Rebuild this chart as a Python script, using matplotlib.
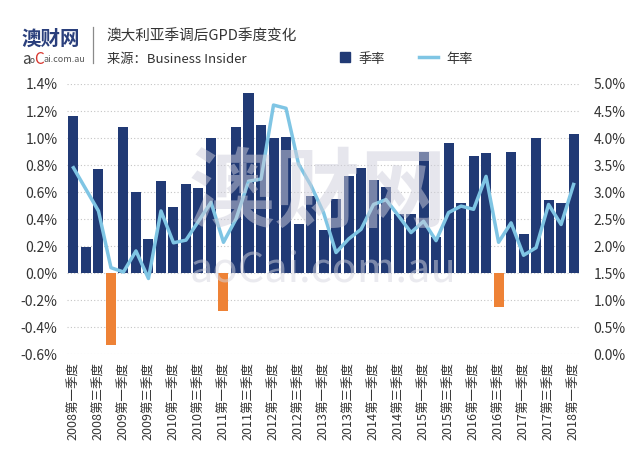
import matplotlib
matplotlib.use('Agg')
import matplotlib.pyplot as plt
from matplotlib.lines import Line2D
from matplotlib.patches import Rectangle

plt.rcParams['font.family'] = ['Noto Sans CJK SC', 'DejaVu Sans']

# quarterly growth (%), 2008Q1 .. 2018Q1
quarterly = [1.16, 0.19, 0.77, -0.53, 1.08, 0.60, 0.25, 0.68, 0.49, 0.66,
             0.63, 1.00, -0.28, 1.08, 1.33, 1.10, 1.00, 1.01, 0.36, 0.57,
             0.32, 0.55, 0.72, 0.78, 0.69, 0.64, 0.44, 0.44, 0.90, 0.27,
             0.96, 0.52, 0.87, 0.89, -0.25, 0.90, 0.29, 1.00, 0.54, 0.52,
             1.03]
# annual growth (%)
annual = [3.45, 3.05, 2.65, 1.60, 1.52, 1.91, 1.40, 2.65, 2.06, 2.11,
          2.46, 2.81, 2.07, 2.50, 3.20, 3.24, 4.61, 4.55, 3.52, 3.12,
          2.62, 1.88, 2.13, 2.31, 2.77, 2.86, 2.56, 2.25, 2.46, 2.10,
          2.62, 2.74, 2.68, 3.29, 2.07, 2.43, 1.83, 1.97, 2.77, 2.40,
          3.14]
tick_labels = ['2008第一季度', '2008第三季度', '2009第一季度', '2009第三季度',
               '2010第一季度', '2010第三季度', '2011第一季度', '2011第三季度',
               '2012第一季度', '2012第三季度', '2013第一季度', '2013第三季度',
               '2014第一季度', '2014第三季度', '2015第一季度', '2015第三季度',
               '2016第一季度', '2016第三季度', '2017第一季度', '2017第三季度',
               '2018第一季度']
left_ticks = [-0.6, -0.4, -0.2, 0.0, 0.2, 0.4, 0.6, 0.8, 1.0, 1.2, 1.4]
right_ticks = [0.0, 0.5, 1.0, 1.5, 2.0, 2.5, 3.0, 3.5, 4.0, 4.5, 5.0]

navy = '#213a75'
orange = '#ee8236'
lightblue = '#7fc5e4'
txt = '#333333'

fig = plt.figure(figsize=(6.4, 4.54), dpi=100)
ax = fig.add_axes([0.105, 0.220, 0.801, 0.595])
x = list(range(len(quarterly)))
colors = [navy if v >= 0 else orange for v in quarterly]
ax.bar(x, quarterly, width=0.8, color=colors, zorder=2)
ax.set_xlim(-0.5, len(quarterly) - 0.5)
ax.set_ylim(-0.6, 1.4)
ax.set_yticks(left_ticks)
ax.set_yticklabels(['%.1f%%' % v for v in left_ticks], fontsize=10, color=txt)
ax.set_xticks(x[::2])
ax.set_xticklabels(tick_labels, rotation=90, fontsize=9, color=txt)
ax.tick_params(length=0, pad=6)
ax.tick_params(axis='y', pad=7)
ax.grid(axis='y', color='#c4c4c4', linestyle=(0, (1, 2)), linewidth=0.8, zorder=0)
for s in ax.spines.values():
    s.set_visible(False)

ax2 = ax.twinx()
ax2.plot(x, annual, color=lightblue, linewidth=2.5, zorder=3)
ax2.set_ylim(0, 5)
ax2.set_yticks(right_ticks)
ax2.set_yticklabels(['%.1f%%' % v for v in right_ticks], fontsize=10, color=txt)
ax2.tick_params(length=0, pad=10)
for s in ax2.spines.values():
    s.set_visible(False)

# header: logo, separator, title
fig.text(0.034, 0.913, '澳财网', fontsize=14, fontweight='bold', color='#2a3f7c',
         va='center', ha='left')
fig.text(0.034, 0.870, 'a', fontsize=11, color='#444444', va='center', ha='left')
fig.text(0.047, 0.866, 'o', fontsize=6, color='#444444', va='center', ha='left')
fig.text(0.054, 0.870, 'C', fontsize=11, color='#d8342c', va='center', ha='left')
fig.text(0.068, 0.868, 'ai.com.au', fontsize=6.5, color='#555555', va='center', ha='left')
fig.add_artist(Line2D([0.146, 0.146], [0.862, 0.940], transform=fig.transFigure,
                      color='#8a8a8a', linewidth=0.9))
fig.text(0.167, 0.918, '澳大利亚季调后GPD季度变化', fontsize=10.5, color=txt,
         va='center', ha='left')
fig.text(0.167, 0.870, '来源：Business Insider', fontsize=9.5, color=txt,
         va='center', ha='left')

# legend
fig.add_artist(Rectangle((0.532, 0.863), 0.015, 0.022, transform=fig.transFigure,
                         color=navy))
fig.text(0.560, 0.870, '季率', fontsize=9.5, color=txt, va='center', ha='left')
fig.add_artist(Line2D([0.654, 0.684], [0.874, 0.874], transform=fig.transFigure,
                      color=lightblue, linewidth=2.5))
fig.text(0.697, 0.870, '年率', fontsize=9.5, color=txt, va='center', ha='left')

# watermark
fig.text(0.497, 0.572, '澳财网', fontsize=62, fontweight='bold', color='#cfcfdc',
         alpha=0.5, ha='center', va='center', zorder=10)
fig.text(0.505, 0.405, 'aoCai.com.au', fontsize=30, color='#d6d6e0',
         alpha=0.5, ha='center', va='center', zorder=10)

fig.savefig('out.png', dpi=100)
